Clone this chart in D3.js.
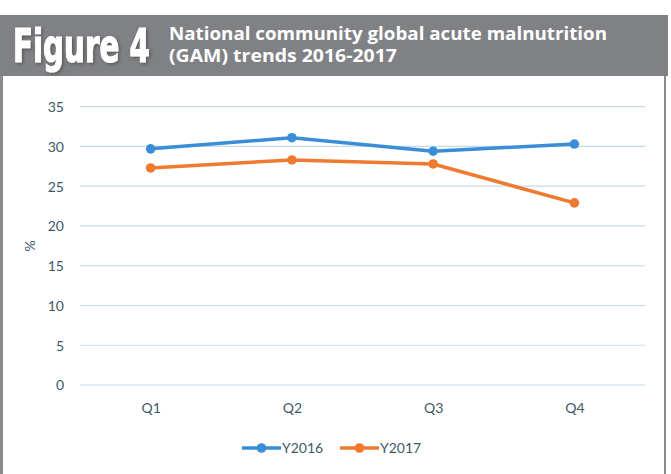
<!DOCTYPE html>
<html>
<head>
<meta charset="utf-8">
<script src="https://cdn.jsdelivr.net/npm/d3@7"></script>
<style>
  html, body { margin: 0; padding: 0; background: #ffffff; }
  svg { display: block; }
</style>
</head>
<body>
<svg id="chart" width="671" height="474"></svg>
<script>
const categories = ["Q1", "Q2", "Q3", "Q4"];
const seriesNames = ["Y2016", "Y2017"];
const y2016 = [29.7, 31.1, 29.4, 30.3];
const y2017 = [27.3, 28.3, 27.8, 22.9];
const yTicks = [0, 5, 10, 15, 20, 25, 30, 35];
const figureLabel = "Figure 4";
const titleLines = ["National community global acute malnutrition", "(GAM) trends 2016-2017"];
const colors = ["#3a8ed8", "#ee7a2f"];

const svg = d3.select("#chart");
const W = 671, H = 474;
const textCol = "#3f5868";
const font = "Lato, 'Open Sans', sans-serif";

// frame
svg.append("rect").attr("x", 0).attr("y", 15).attr("width", 668).attr("height", H - 15).attr("fill", "#ffffff");
svg.append("line").attr("x1", 1.5).attr("x2", 1.5).attr("y1", 15).attr("y2", H).attr("stroke", "#8a8b8e").attr("stroke-width", 3);
svg.append("line").attr("x1", 665).attr("x2", 665).attr("y1", 15).attr("y2", H).attr("stroke", "#8a8b8e").attr("stroke-width", 2);

// header band
svg.append("rect").attr("x", 0).attr("y", 15).attr("width", 668).attr("height", 61).attr("fill", "#808185");

const defs = svg.append("defs");
const f = defs.append("filter").attr("id", "sh").attr("x", "-10%").attr("y", "-10%").attr("width", "130%").attr("height", "140%");
f.append("feDropShadow").attr("dx", 1.5).attr("dy", 1.5).attr("stdDeviation", 1.5).attr("flood-color", "#3a3a3c").attr("flood-opacity", 0.6);

// "Figure 4" – condensed via a horizontal scale so its real box matches its drawn width
const figG = svg.append("g").attr("filter", "url(#sh)");
const figT = figG.append("text").attr("x", 0).attr("y", 0)
  .attr("font-family", "'Liberation Sans Narrow', 'DejaVu Sans Condensed', sans-serif")
  .attr("font-weight", "bold").attr("font-size", 47).attr("fill", "#ffffff")
  .attr("stroke", "#ffffff").attr("stroke-width", 1.2)
  .text(figureLabel);
const natW = figT.node().getComputedTextLength();
const sx = 137 / natW;
figT.attr("transform", `translate(13,62) scale(${sx},1)`);

svg.append("text").attr("x", 169).attr("y", 40)
  .attr("font-family", "'Open Sans', sans-serif").attr("font-weight", "bold")
  .attr("font-size", 17).attr("fill", "#ffffff")
  .attr("textLength", 438).attr("lengthAdjust", "spacingAndGlyphs")
  .text(titleLines[0]);
svg.append("text").attr("x", 169).attr("y", 62)
  .attr("font-family", "'Open Sans', sans-serif").attr("font-weight", "bold")
  .attr("font-size", 17).attr("fill", "#ffffff")
  .attr("textLength", 228).attr("lengthAdjust", "spacingAndGlyphs")
  .text(titleLines[1]);

// scales
const x = d3.scalePoint().domain(categories).range([80, 645]).padding(0.5);
const y = d3.scaleLinear().domain([0, 35]).range([385, 106.7]);

// gridlines
svg.append("g").selectAll("line").data(yTicks).join("line")
  .attr("x1", 80).attr("x2", 645)
  .attr("y1", d => y(d)).attr("y2", d => y(d))
  .attr("stroke", "#c4dcea").attr("stroke-width", 1.2);

// y axis labels
const yAxis = d3.axisLeft(y).tickValues(yTicks).tickSize(0).tickPadding(0);
const gy = svg.append("g").attr("transform", "translate(64,0)").call(yAxis);
gy.select(".domain").remove();
gy.selectAll("text").attr("font-family", font).attr("font-size", 14).attr("fill", textCol).attr("dy", "0.35em");

// x axis labels
const xAxis = d3.axisBottom(x).tickSize(0).tickPadding(0);
const gx = svg.append("g").attr("transform", "translate(0,403)").call(xAxis);
gx.select(".domain").remove();
gx.selectAll("text").attr("font-family", font).attr("font-size", 14).attr("fill", textCol).attr("dy", "0.71em");

// y title
svg.append("text").attr("transform", "translate(35,246) rotate(-90)")
  .attr("text-anchor", "middle").attr("font-family", font).attr("font-size", 14).attr("fill", textCol)
  .text("%");

// series
const series = [y2016, y2017];
const line = d3.line().x((d, i) => x(categories[i])).y(d => y(d));
series.forEach((vals, si) => {
  svg.append("path").datum(vals).attr("d", line)
    .attr("fill", "none").attr("stroke", colors[si]).attr("stroke-width", 3.5)
    .attr("stroke-linejoin", "round").attr("stroke-linecap", "round");
  svg.append("g").selectAll("circle").data(vals).join("circle")
    .attr("cx", (d, i) => x(categories[i])).attr("cy", d => y(d)).attr("r", 4.8)
    .attr("fill", colors[si]);
});

// legend
const legendItems = [{x0: 242, name: seriesNames[0], c: colors[0]}, {x0: 340, name: seriesNames[1], c: colors[1]}];
const lg = svg.append("g");
legendItems.forEach(it => {
  lg.append("line").attr("x1", it.x0).attr("x2", it.x0 + 39).attr("y1", 448).attr("y2", 448)
    .attr("stroke", it.c).attr("stroke-width", 3.5);
  lg.append("circle").attr("cx", it.x0 + 19.5).attr("cy", 448).attr("r", 4.8).attr("fill", it.c);
  lg.append("text").attr("x", it.x0 + 40).attr("y", 448).attr("dy", "0.35em")
    .attr("font-family", font).attr("font-size", 14).attr("fill", textCol).text(it.name);
});
</script>
</body>
</html>
